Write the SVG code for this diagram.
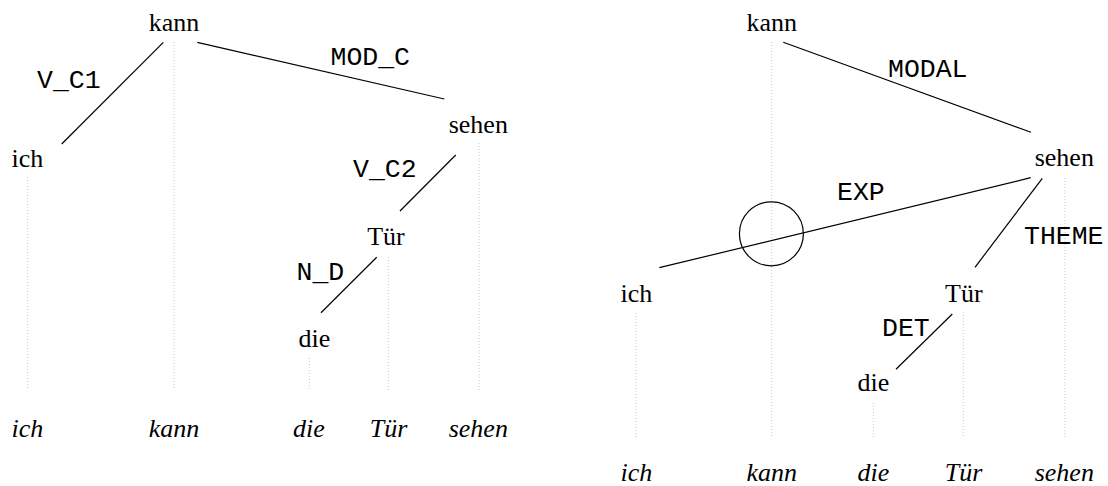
<svg xmlns="http://www.w3.org/2000/svg" width="1108" height="486" viewBox="0 0 1108 486">
<style>
.w{font-family:"Liberation Serif","Times New Roman",serif;font-size:26px;fill:#000;text-anchor:middle}
.it{font-family:"Liberation Serif","Times New Roman",serif;font-size:26px;font-style:italic;fill:#000;text-anchor:middle}
.lb{font-family:"Liberation Mono","Courier New",monospace;font-size:26.5px;fill:#000}
.e{stroke:#000;stroke-width:1.2;fill:none}
.d{stroke:#c8c8c8;stroke-width:1;stroke-dasharray:1 2;fill:none}
</style>
<rect width="1108" height="486" fill="#fff"/>
<g id="projections">
<line class="d" x1="27.7" y1="177" x2="27.7" y2="390"/>
<line class="d" x1="174" y1="42" x2="174" y2="390"/>
<line class="d" x1="309.3" y1="358" x2="309.3" y2="390"/>
<line class="d" x1="388.3" y1="257" x2="388.3" y2="390"/>
<line class="d" x1="479" y1="143" x2="479" y2="390"/>
<line class="d" x1="636" y1="313" x2="636" y2="437"/>
<line class="d" x1="771.7" y1="42" x2="771.7" y2="437"/>
<line class="d" x1="873.3" y1="403" x2="873.3" y2="437"/>
<line class="d" x1="963.3" y1="312" x2="963.3" y2="437"/>
<line class="d" x1="1065" y1="178" x2="1065" y2="437"/>
</g>
<g id="connectors">
<line class="e" x1="163.3" y1="42.3" x2="61.7" y2="144"/>
<line class="e" x1="197.3" y1="42.3" x2="444.3" y2="99"/>
<line class="e" x1="455.7" y1="155" x2="400" y2="211"/>
<line class="e" x1="376.7" y1="257.3" x2="321" y2="312.7"/>
<line class="e" x1="783.3" y1="42.3" x2="1031" y2="132.3"/>
<line class="e" x1="1030.7" y1="177.7" x2="659.3" y2="267.7"/>
<line class="e" x1="1042.3" y1="178.3" x2="975" y2="267.3"/>
<line class="e" x1="952.3" y1="314" x2="896" y2="369.3"/>
<circle class="e" cx="771.4" cy="233.8" r="32"/>
<text class="lb" x="37" y="88.3">V_C1</text>
<text class="lb" x="330.5" y="65">MOD_C</text>
<text class="lb" x="353" y="176.7">V_C2</text>
<text class="lb" x="296.5" y="280">N_D</text>
<text class="lb" x="888" y="76.7">MODAL</text>
<text class="lb" x="837" y="200">EXP</text>
<text class="lb" x="1024" y="244">THEME</text>
<text class="lb" x="882" y="336">DET</text>
</g>
<g id="left-kann"><text class="w" x="174" y="31">kann</text></g>
<g id="left-ich"><text class="w" x="27.5" y="166.7">ich</text></g>
<g id="left-sehen"><text class="w" x="478.3" y="133.3">sehen</text></g>
<g id="left-tuer"><text class="w" x="386" y="245">Tür</text></g>
<g id="left-die"><text class="w" x="314.5" y="346.7">die</text></g>
<g id="right-kann"><text class="w" x="771.7" y="30.7">kann</text></g>
<g id="right-sehen"><text class="w" x="1064.3" y="165.7">sehen</text></g>
<g id="right-ich"><text class="w" x="636.5" y="301.7">ich</text></g>
<g id="right-tuer"><text class="w" x="963.8" y="301.7">Tür</text></g>
<g id="right-die"><text class="w" x="873.3" y="390.7">die</text></g>
<g id="left-sentence">
<text class="it" x="27.5" y="436.7">ich</text>
<text class="it" x="174" y="436.7">kann</text>
<text class="it" x="309" y="436.7">die</text>
<text class="it" x="388.5" y="436.7">Tür</text>
<text class="it" x="478.3" y="436.7">sehen</text>
</g>
<g id="right-sentence">
<text class="it" x="636.5" y="480.7">ich</text>
<text class="it" x="771.7" y="480.7">kann</text>
<text class="it" x="873.3" y="480.7">die</text>
<text class="it" x="963.5" y="480.7">Tür</text>
<text class="it" x="1064.3" y="480.7">sehen</text>
</g>
</svg>
